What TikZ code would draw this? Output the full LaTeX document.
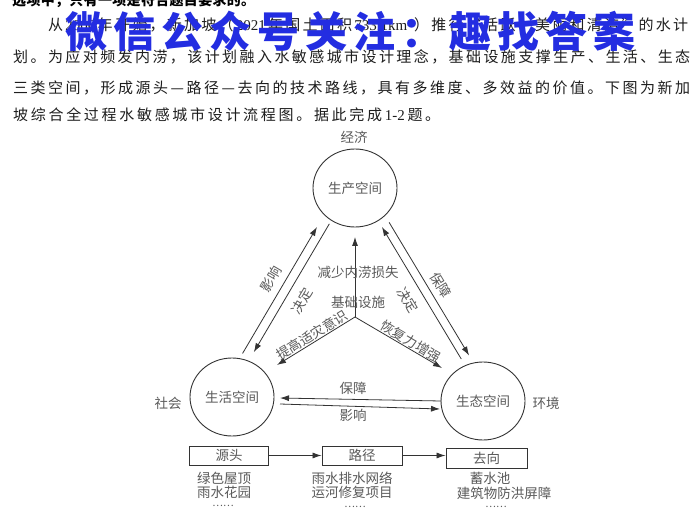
\documentclass[tikz,border=0pt]{standalone}
\usepackage{fontspec}
\usetikzlibrary{arrows.meta,calc,shapes.geometric}
\newfontfamily\cjk{Noto Sans CJK SC}
\newfontfamily\lat{Liberation Serif}
\definecolor{linec}{HTML}{333333}
\definecolor{txtc}{HTML}{5A5A5A}
\definecolor{bodyc}{HTML}{1E1E1E}
\definecolor{wmc}{RGB}{35,45,225}
\newcommand{\dfont}{\cjk\fontsize{13.5}{15}\selectfont}
\newcommand{\bfont}{\cjk\fontsize{15}{17}\selectfont}
\newcommand{\yrA}{\lat 2006}
\newcommand{\yrB}{\lat 2021}
\newcommand{\areaN}{\lat 733.1km²}
\newcommand{\qnum}{\lat 1-2}
\makeatletter
\def\spreadtxt#1{\spread@first#1\end}
\def\spread@first#1{{#1}\spread@aux}
\def\spread@aux#1{\ifx\end#1\else\hfil{#1}\expandafter\spread@aux\fi}
\makeatother
\tikzset{
  sp/.style={draw=linec, line width=0.9pt, ellipse, minimum width=84pt, minimum height=78pt, inner sep=0pt, font=\dfont, text=txtc},
  arr/.style={draw=linec, line width=0.8pt, -{Latex[length=9pt,width=6pt]}},
  lbl/.style={font=\dfont, text=txtc, inner sep=1pt},
  dots/.style={font=\cjk\fontsize{10}{11}\selectfont, text=txtc, inner sep=0pt},
  bx/.style={draw=linec, line width=0.9pt, minimum width=79pt, minimum height=19pt, inner sep=0pt, font=\dfont, text=txtc},
  bodyline/.style={anchor=west, inner sep=0pt, font=\bfont, text=bodyc},
}
\begin{document}
\begin{tikzpicture}[x=1pt,y=-1pt]
\useasboundingbox (0,0) rectangle (700,510);
\clip (0,0) rectangle (700,510);
\fill[white] (0,0) rectangle (700,510);
% header (cut off at top)
\node[anchor=base west, inner sep=0pt, font=\cjk\bfseries\fontsize{14}{16}\selectfont, text=black] (hd) at (12,6) {\hbox to 243pt{\spreadtxt{选项中，只有一项是符合题目要求的。}}};
% body text
\node[bodyline] (t1) at (48,25) {\hbox to 640pt{\spreadtxt{从\yrA 年开始，新加坡（\yrB 年国土面积\areaN）推行“活跃、美丽和清洁”的水计}}};
\node[bodyline] (t2) at (13,57) {\hbox to 677pt{\spreadtxt{划。为应对频发内涝，该计划融入水敏感城市设计理念，基础设施支撑生产、生活、生态}}};
\node[bodyline] (t3) at (13,88) {\hbox to 677pt{\spreadtxt{三类空间，形成源头—路径—去向的技术路线，具有多维度、多效益的价值。下图为新加}}};
\node[bodyline] (t4) at (13,115) {\hbox to 427pt{\spreadtxt{坡综合全过程水敏感城市设计流程图。据此完成\qnum 题。}}};
% watermark
\node[anchor=west, inner sep=0pt, font=\cjk\bfseries\fontsize{42}{45}\selectfont, text=wmc] (wm) at (65,31) {\hbox to 570pt{\spreadtxt{微信公众号关注：趣找答案}}};
% spaces
\node[sp] (P) at (355,188) {生产空间};
\node[sp] (L) at (232,397) {生活空间};
\node[sp] (E) at (483,401) {生态空间};
\node[lbl] (econ) at (354,137) {经济};
\node[lbl] (soc) at (168,403) {社会};
\node[lbl] (env) at (546,403) {环境};
% left pair
\draw[arr] ($(L.center)!0.177!(P.center)+(-11.2,-6.6)$) -- ($(L.center)!0.782!(P.center)+(-11.2,-6.6)$);
\draw[arr] ($(L.center)!0.819!(P.center)+(-3.4,-2)$) -- ($(L.center)!0.205!(P.center)+(-3.4,-2)$);
\node[lbl, rotate=59.5] (lA) at (271,279) {影响};
\node[lbl, rotate=59.5] (lB) at (302,301) {决定};
% right pair
\draw[arr] ($(P.center)!0.189!(E.center)+(9.9,-5.9)$) -- ($(P.center)!0.814!(E.center)+(9.9,-5.9)$);
\draw[arr] ($(P.center)!0.81!(E.center)+(2.6,-1.5)$) -- ($(P.center)!0.19!(E.center)+(2.6,-1.5)$);
\node[lbl, rotate=-59] (rA) at (441,285) {保障};
\node[lbl, rotate=-59] (rB) at (408,300) {决定};
% center junction
\coordinate (J) at (355,317);
\coordinate (Lt) at (277,365);
\coordinate (Et) at (442,368);
\draw[arr] (J) -- ($(P.center)+(0,49)$);
\draw[arr] (J) -- node[lbl, sloped, above, inner sep=0.5pt] {提高适灾意识} (Lt);
\draw[arr] (J) -- node[lbl, sloped, above, pos=0.6, inner sep=0.5pt] {恢复力增强} (Et);
\node[lbl] (c1) at (358,272) {减少内涝损失};
\node[lbl] (c2) at (358,302) {基础设施};
% horizontal pair
\draw[arr] ($(E.center)+(-42,0)$) -- ($(L.center)+(48,1)$);
\draw[arr] ($(L.center)+(48,7)$) -- ($(E.center)+(-43,8)$);
\node[lbl] (h1) at (353,388) {保障};
\node[lbl] (h2) at (353,415) {影响};
% bottom flow
\node[bx] (s1) at (229,455.5) {源头};
\node[bx, minimum width=80pt] (s2) at (362,455.5) {路径};
\node[bx, minimum width=81pt, minimum height=20pt] (s3) at (486.5,458) {去向};
\draw[arr] (s1.east) -- (s2.west);
\draw[arr] (s2.east) -- (s2.east -| s3.west);
\node[lbl] (a1) at (224,478) {绿色屋顶};
\node[lbl] (a2) at (224,492) {雨水花园};
\node[dots] (a3) at (223,506) {……};
\node[lbl] (b1) at (352,478) {雨水排水网络};
\node[lbl] (b2) at (352,492) {运河修复项目};
\node[dots] (b3) at (355,507) {……};
\node[lbl] (d1) at (490,478) {蓄水池};
\node[lbl] (d2) at (504,493) {建筑物防洪屏障};
\node[dots] (d3) at (496,507) {……};
\end{tikzpicture}
\end{document}
